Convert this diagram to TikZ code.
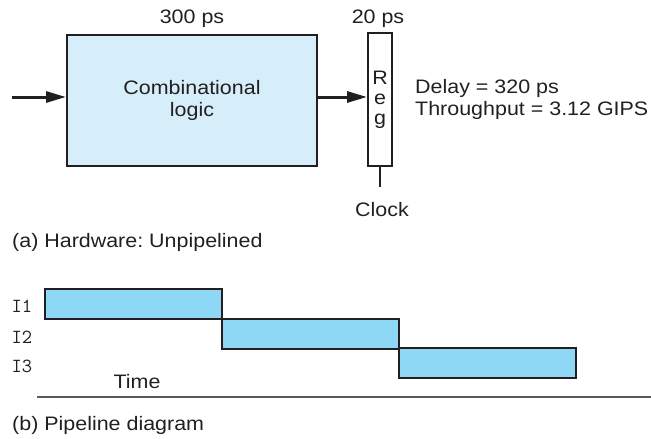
\documentclass[tikz,border=0pt]{standalone}
\usepackage{fontspec}
\setmainfont{Liberation Sans}[FakeStretch=1.1]
\frenchspacing
\definecolor{pipeInk}{HTML}{231F20}
\definecolor{pipeComb}{HTML}{D6EEFA}
\definecolor{pipeStage}{HTML}{8ED8F6}
\definecolor{pipeAxis}{HTML}{5A5A5A}
\usetikzlibrary{arrows.meta, positioning}

\begin{document}
\begin{tikzpicture}[
    x=1pt, y=-1pt,
    blk/.style={
      draw=pipeInk,
      fill=pipeComb,
      text=pipeInk,
      line width=2pt,
      minimum width=250pt,
      minimum height=131pt,
      align=center,
      inner sep=0pt,
      font=\fontsize{19.5}{22}\selectfont,
    },
    regbox/.style={blk, fill=white, minimum width=24pt, minimum height=133pt,
      font=\fontsize{19.5}{20}\selectfont},
    stage/.style={draw=pipeInk, fill=pipeStage, line width=2pt,
      minimum width=177pt, minimum height=30pt, inner sep=0pt},
    arr/.style={-{Triangle[length=20pt, width=11pt]}, pipeInk, line width=3pt},
    lbl/.style={font=\fontsize{19.5}{22}\selectfont, text=pipeInk, inner sep=0pt},
    ilbl/.style={font=\ttfamily\fontsize{20}{20}\selectfont, text=pipeInk, inner sep=0pt},
  ]
    \useasboundingbox (0,0) rectangle (651,439);

    % hardware
    \node[blk] (comb) at (192,100) {Combinational\\logic};
    \node[regbox] (reg) at (380,99.5) {R\\e\\g};
    \coordinate (in) at (12,97);
    \coordinate (clk) at (380,187);

    \draw[arr] (in) -- (in -| comb.west);
    \draw[arr] (comb.east |- in) -- (reg.west |- in);
    \draw[pipeInk, line width=2pt] (reg.south) -- (clk);

    % timing labels
    \node[lbl] (tcomb) at (192,19) {300 ps};
    \node[lbl] (treg) at (378,19) {20 ps};
    \node[lbl] (clock) at (382,210) {Clock};
    \node[lbl, anchor=west, align=left] (perf) at (415,99)
      {Delay = 320 ps\\Throughput = 3.12 GIPS};

    \node[lbl, anchor=west] (capa) at (12,242) {(a) Hardware: Unpipelined};

    % pipeline diagram
    \foreach \i/\x/\y in {1/133.5/304, 2/310/333.5, 3/487/363}{
      \node[stage] (s\i) at (\x,\y) {};
    }
    \node[ilbl] (i1) at (22,306) {I1};
    \node[ilbl] (i2) at (22,337) {I2};
    \node[ilbl] (i3) at (22,366) {I3};
    \node[lbl] (time) at (137,382) {Time};

    \coordinate (axl) at (37,397);
    \coordinate (axr) at (651,397);
    \draw[pipeAxis, line width=1.3pt] (axl) -- (axr);

    \node[lbl, anchor=west] (capb) at (12,425) {(b) Pipeline diagram};
\end{tikzpicture}
\end{document}
